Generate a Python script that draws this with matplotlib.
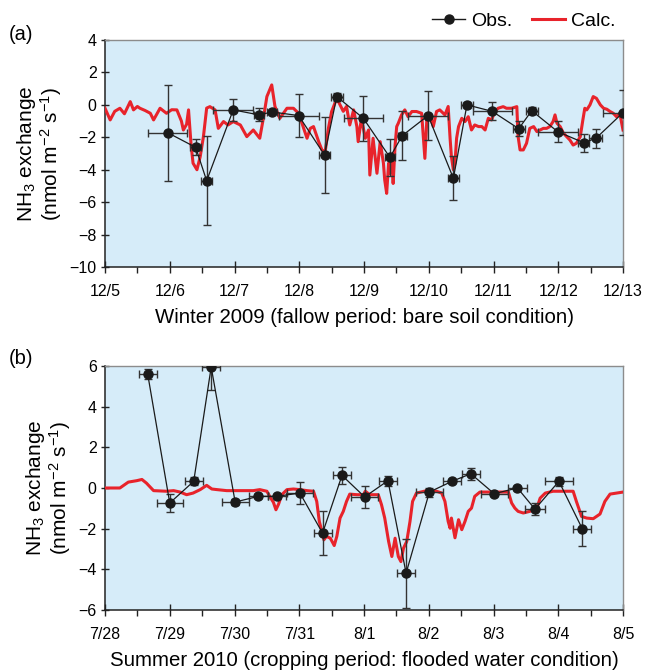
import matplotlib
matplotlib.use("Agg")
import matplotlib.pyplot as plt
from matplotlib.ticker import MultipleLocator, FixedLocator
from matplotlib.lines import Line2D

plt.rcParams['font.family'] = ['Liberation Sans', 'DejaVu Sans']
plt.rcParams['mathtext.default'] = 'regular'

# ---------------- Data: panel (a) Winter 2009 ----------------
ticks_a = ["12/5", "12/6", "12/7", "12/8", "12/9", "12/10", "12/11", "12/12", "12/13"]
obs_a_day = [0.97, 1.40, 1.57, 1.98, 2.38, 2.58, 2.99, 3.39, 3.58, 3.99, 4.40,
             4.59, 4.99, 5.38, 5.59, 5.98, 6.39, 6.59, 6.99, 7.39, 7.58, 8.00]
obs_a_val = [-1.72, -2.62, -4.68, -0.31, -0.62, -0.44, -0.66, -3.09, 0.51, -0.83, -3.24,
             -1.90, -0.66, -4.53, 0.00, -0.40, -1.47, -0.36, -1.65, -2.33, -2.07, -0.48]
obs_a_yerr = [2.95, 0.50, 2.75, 0.70, 0.40, 0.15, 1.35, 2.35, 0.25, 1.40, 1.15,
              1.50, 1.50, 1.35, 0.20, 0.55, 0.45, 0.20, 0.65, 0.55, 0.60, 1.40]
obs_a_xerr = [0.30, 0.08, 0.09, 0.31, 0.08, 0.08, 0.31, 0.09, 0.09, 0.30, 0.08,
              0.07, 0.31, 0.09, 0.09, 0.30, 0.09, 0.09, 0.31, 0.08, 0.10, 0.31]

calc_a_day = [0.00, 0.08, 0.15, 0.23, 0.30, 0.39, 0.44, 0.50, 0.54, 0.62, 0.70, 0.75, 0.85, 0.95,
              1.03, 1.11, 1.18, 1.21, 1.26, 1.29, 1.33, 1.36, 1.42, 1.47, 1.52, 1.57, 1.62, 1.70,
              1.75, 1.83, 1.90, 1.98, 2.09, 2.19, 2.29, 2.39, 2.45, 2.50, 2.575, 2.625, 2.70, 2.81,
              2.91, 2.99, 3.06, 3.12, 3.17, 3.22, 3.30, 3.35, 3.40, 3.45, 3.50, 3.58, 3.63, 3.68,
              3.73, 3.78, 3.84, 3.89, 3.91, 3.96, 4.02, 4.07, 4.09, 4.14, 4.20, 4.25, 4.30, 4.32,
              4.35, 4.38, 4.40, 4.43, 4.45, 4.48, 4.505, 4.53, 4.58, 4.63, 4.68, 4.74, 4.81, 4.89,
              4.94, 4.97, 5.02, 5.07, 5.12, 5.17, 5.25, 5.30, 5.33, 5.35, 5.38, 5.405, 5.43, 5.46,
              5.51, 5.56, 5.61, 5.66, 5.71, 5.77, 5.82, 5.87, 5.92, 5.97, 6.02, 6.07, 6.15, 6.20,
              6.28, 6.36, 6.38, 6.41, 6.46, 6.51, 6.56, 6.62, 6.67, 6.72, 6.77, 6.82, 6.87, 6.92,
              6.95, 6.98, 7.03, 7.08, 7.13, 7.18, 7.23, 7.28, 7.34, 7.38, 7.41, 7.44, 7.49, 7.54,
              7.59, 7.65, 7.70, 7.75, 7.80, 7.85, 7.90, 7.95, 7.98, 8.00]
calc_a_val = [-0.21, -0.93, -0.40, -0.21, -0.55, 0.20, -0.31, -0.10, -0.21, -0.35, -0.52, -0.93, -0.21, -0.52,
              -0.30, -0.31, -1.00, -1.55, -1.20, -0.31, -2.50, -3.60, -4.00, -3.20, -1.96, -0.20, -0.11, -0.31,
              -1.45, -1.03, -1.24, -1.03, -1.24, -1.96, -1.55, -2.06, -0.73, 0.51, 1.23, -0.10, -0.83, -0.21,
              -0.21, -0.52, -1.34, -2.06, -1.45, -1.34, -2.27, -2.78, -2.90, -1.45, -0.41, 0.40, 0.00, -0.40,
              -0.10, -1.24, -0.31, -1.34, -2.27, -0.83, -2.06, -1.55, -4.33, -2.06, -4.22, -2.27, -3.60, -4.64,
              -5.46, -3.60, -4.22, -3.20, -4.85, -2.50, -1.34, -1.13, -0.62, -0.31, -0.73, -0.41, -0.41, -0.52,
              -3.30, -0.93, -0.62, -1.34, -0.41, -0.31, -0.62, -0.10, -2.10, -3.20, -4.00, -3.60, -2.06, -1.34,
              -0.83, -1.03, -0.73, -1.55, -1.24, -1.34, -1.34, -1.55, -0.83, -0.93, -0.41, -0.21, -0.11, -0.21,
              -0.21, -0.11, -1.96, -2.78, -2.78, -2.37, -1.45, -1.34, -1.65, -1.55, -1.45, -1.45, -1.34, -1.03,
              -0.62, -1.13, -1.34, -1.75, -1.96, -2.17, -2.48, -2.37, -1.96, -0.93, -0.21, -0.31, 0.00, 0.51,
              0.40, 0.00, -0.21, -0.27, -0.41, -0.52, -0.73, -0.52, -1.13, -1.55]

# ---------------- Data: panel (b) Summer 2010 ----------------
ticks_b = ["7/28", "7/29", "7/30", "7/31", "8/1", "8/2", "8/3", "8/4", "8/5"]
obs_b_day = [0.66, 1.00, 1.37, 1.64, 2.01, 2.37, 2.65, 3.01, 3.36, 3.66, 4.01,
             4.37, 4.65, 5.01, 5.36, 5.65, 6.01, 6.37, 6.64, 7.01, 7.37]
obs_b_val = [5.59, -0.74, 0.33, 5.95, -0.69, -0.41, -0.41, -0.25, -2.22, 0.62, -0.44,
             0.36, -4.19, -0.20, 0.33, 0.70, -0.28, 0.00, -1.04, 0.33, -2.00]
obs_b_yerr = [0.25, 0.45, 0.20, 1.15, 0.15, 0.10, 0.10, 0.55, 1.07, 0.43, 0.54,
              0.25, 1.70, 0.22, 0.10, 0.30, 0.10, 0.10, 0.30, 0.23, 0.85]
obs_b_xerr = [0.14, 0.20, 0.14, 0.14, 0.21, 0.14, 0.14, 0.20, 0.14, 0.14, 0.21,
              0.14, 0.14, 0.21, 0.14, 0.14, 0.21, 0.14, 0.15, 0.21, 0.14]

calc_b_day = [0.00, 0.23, 0.36, 0.49, 0.57, 0.64, 0.75, 0.95, 1.06, 1.16, 1.26, 1.36, 1.47, 1.57,
              1.65, 1.73, 1.88, 2.09, 2.29, 2.39, 2.50, 2.55, 2.60, 2.64, 2.68, 2.73, 2.81, 2.91,
              3.01, 3.12, 3.22, 3.27, 3.31, 3.35, 3.38, 3.42, 3.48, 3.54, 3.58, 3.63, 3.68, 3.73,
              3.78, 3.89, 3.99, 4.02, 4.09, 4.22, 4.27, 4.32, 4.38, 4.43, 4.48, 4.53, 4.57, 4.61,
              4.66, 4.71, 4.75, 4.81, 4.97, 5.12, 5.20, 5.25, 5.30, 5.33, 5.35, 5.405, 5.46, 5.51,
              5.56, 5.61, 5.66, 5.71, 5.79, 5.95, 6.10, 6.23, 6.28, 6.33, 6.38, 6.46, 6.56, 6.67,
              6.72, 6.80, 6.92, 7.08, 7.23, 7.28, 7.36, 7.44, 7.54, 7.645, 7.72, 7.80, 7.90, 8.00]
calc_b_val = [0.00, 0.00, 0.29, 0.36, 0.42, 0.24, -0.13, -0.16, -0.13, -0.20, -0.33, -0.25, -0.08, 0.13,
              -0.05, -0.08, -0.13, -0.13, -0.13, -0.08, -0.16, -0.45, -0.70, -1.07, -0.80, -0.33, -0.08, -0.05,
              -0.08, -0.13, -0.16, -0.66, -1.65, -2.14, -2.55, -2.38, -2.47, -2.83, -2.38, -1.48, -1.15, -0.66,
              -0.30, -0.33, -0.33, -0.16, -0.33, -0.33, -0.82, -1.48, -2.63, -3.37, -2.47, -3.37, -3.62, -2.96,
              -2.63, -1.65, -0.66, -0.25, -0.13, -0.16, -0.25, -0.66, -1.65, -1.98, -1.48, -2.45, -1.56, -2.05,
              -1.64, -1.15, -0.99, -0.41, -0.20, -0.20, -0.20, -0.20, -0.74, -0.99, -1.15, -1.23, -1.15, -0.99,
              -0.50, -0.25, -0.16, -0.16, -0.16, -0.66, -1.40, -1.48, -1.51, -1.28, -0.66, -0.30, -0.25, -0.20]

RED = '#e8232b'
BG = '#d6ecf9'

fig = plt.figure(figsize=(6.45, 6.70), dpi=100)
ax_a = fig.add_axes([0.1628, 0.6015, 0.8031, 0.3388])
ax_b = fig.add_axes([0.1628, 0.0896, 0.8031, 0.3641])


def style(ax, ylim, yticks, xticklabels, xlabel):
    ax.set_facecolor(BG)
    ax.set_xlim(0, 8)
    ax.set_ylim(*ylim)
    ax.set_yticks(yticks)
    ax.set_yticklabels([("\u2212" + str(-t)) if t < 0 else str(t) for t in yticks])
    ax.xaxis.set_major_locator(FixedLocator(range(9)))
    ax.xaxis.set_minor_locator(MultipleLocator(0.5))
    ax.set_xticklabels(xticklabels)
    ax.tick_params(axis='x', which='major', direction='inout', length=9, width=1.0,
                   labelsize=11.5, pad=8, color='#222222')
    ax.tick_params(axis='x', which='minor', direction='out', length=4, width=1.0, color='#222222')
    ax.tick_params(axis='y', which='major', direction='inout', length=6, width=1.0,
                   labelsize=11.5, pad=3, color='#222222')
    for s in ['left', 'bottom']:
        ax.spines[s].set_color('#222222')
        ax.spines[s].set_linewidth(1.1)
    for s in ['top', 'right']:
        ax.spines[s].set_color('#8c8c8c')
        ax.spines[s].set_linewidth(1.0)
    ax.set_xlabel(xlabel, fontsize=14.7, labelpad=6)
    ax.set_ylabel("NH$_3$ exchange\n(nmol m$^{-2}$ s$^{-1}$)", fontsize=15, labelpad=4,
                  linespacing=1.0)


def draw(ax, cd, cv, od, ov, oxe, oye):
    ax.plot(cd, cv, color=RED, lw=2.2, zorder=3)
    ax.errorbar(od, ov, xerr=oxe, yerr=oye, fmt='o', color='#1a1a1a', ms=6.5,
                ecolor='#333333', elinewidth=1.0, capsize=3, capthick=1.0, zorder=4)
    ax.plot(od, ov, color='#1a1a1a', lw=0.9, zorder=4)


draw(ax_a, calc_a_day, calc_a_val, obs_a_day, obs_a_val, obs_a_xerr, obs_a_yerr)
style(ax_a, (-10, 4), list(range(-10, 5, 2)), ticks_a,
      "Winter 2009 (fallow period: bare soil condition)")

draw(ax_b, calc_b_day, calc_b_val, obs_b_day, obs_b_val, obs_b_xerr, obs_b_yerr)
style(ax_b, (-6, 6), list(range(-6, 7, 2)), ticks_b,
      "Summer 2010 (cropping period: flooded water condition)")

fig.text(0.014, 0.940, "(a)", fontsize=14.5)
fig.text(0.014, 0.456, "(b)", fontsize=14.5)

handles = [Line2D([], [], color='#1a1a1a', marker='o', ms=6.5, lw=1.0),
           Line2D([], [], color=RED, lw=2.2)]
fig.legend(handles, ["Obs.", "Calc."], loc='center right', bbox_to_anchor=(0.966, 0.968),
           frameon=False, fontsize=14, ncol=2, handlelength=1.7, handletextpad=0.3,
           columnspacing=1.0, borderaxespad=0)

fig.savefig("out.png", dpi=100)
